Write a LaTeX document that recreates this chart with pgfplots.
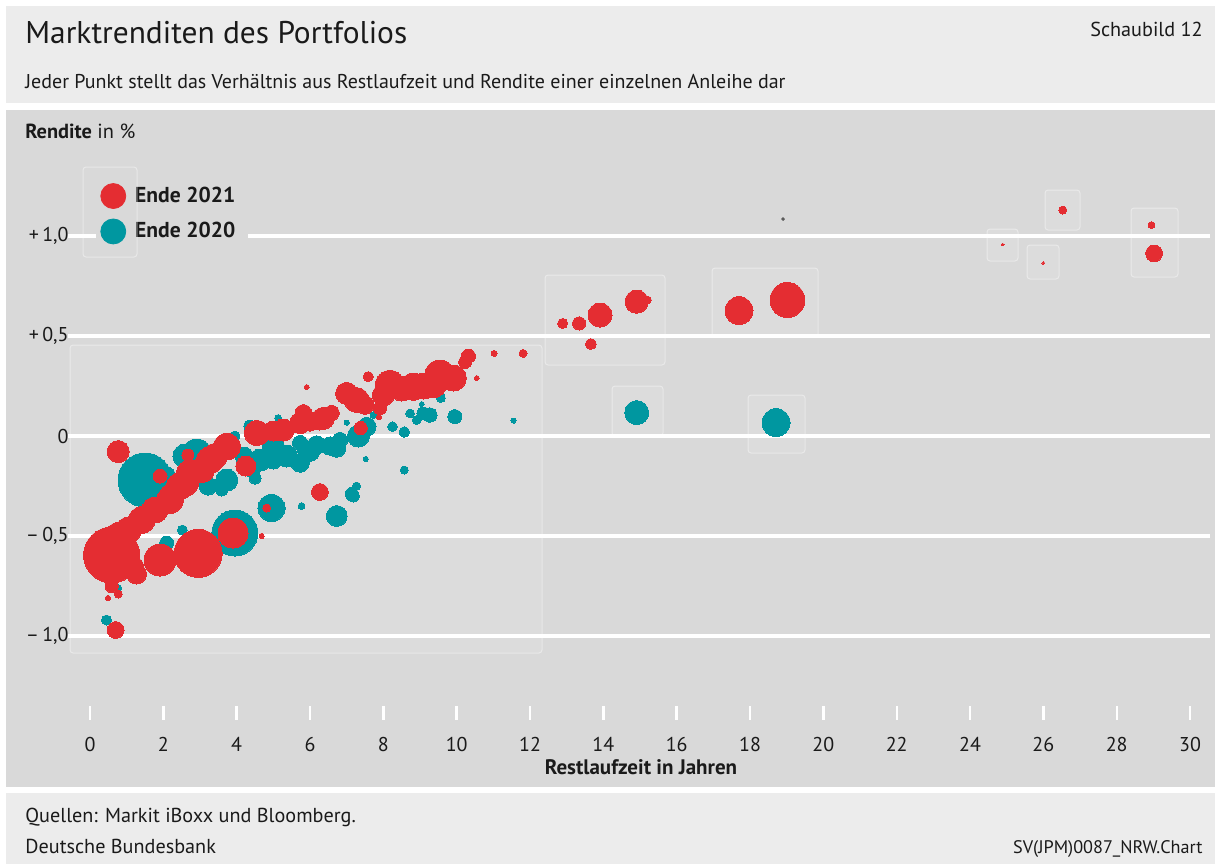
\documentclass[border=0pt]{standalone}
\usepackage{pgfplots}
\usepackage{pgfplotstable}
\pgfplotsset{compat=1.18}
\usepackage{fontspec}
\setmainfont{PT Sans}
\definecolor{hdr}{HTML}{ECECEC}
\definecolor{pbg}{HTML}{D9D9D9}
\definecolor{cred}{HTML}{E42D32}
\definecolor{cteal}{HTML}{0097A0}
\definecolor{txt}{HTML}{1A1A1A}
\pgfplotstableread{
x y r
1.50 -0.22 13.5
2.91 -0.09 7.5
3.95 -0.485 11.5
2.09 -0.535 3.5
1.25 -0.42 3.7
2.52 -0.47 2.5
4.95 -0.36 6.8
5.77 -0.35 1.7
6.73 -0.40 5.2
7.14 -0.29 3.3
7.27 -0.25 2
7.18 -0.30 3
8.57 -0.17 2
0.45 -0.92 2.5
0.77 -0.76 1.7
4.64 -0.12 5.5
5.36 -0.10 5.5
6.00 -0.078 4.8
6.73 -0.06 4.6
3.73 -0.22 5.5
3.22 -0.25 4.5
3.59 -0.27 3
4.50 -0.21 3
5.73 -0.035 3.8
4.36 0.05 3
5.13 0.09 1.7
3.95 0.0 2.5
7.00 0.067 1.3
5.91 -0.07 4.6
6.18 -0.045 4.6
6.55 -0.05 4.6
6.82 -0.02 3.8
7.32 0.0 5.5
7.55 0.047 4.6
7.73 0.105 1.7
7.91 0.12 1.2
8.25 0.047 2.4
8.57 0.02 2.6
8.73 0.113 2.2
8.91 0.08 2.2
9.09 0.113 3.2
9.27 0.105 3.6
9.05 0.16 1.2
9.57 0.19 2.2
9.95 0.097 3.5
11.55 0.077 1.3
7.52 -0.115 1.3
5.73 -0.135 4.6
2.59 -0.10 6
2.09 -0.20 4.5
5.00 -0.05 5.5
4.20 -0.10 4.5
5.00 -0.12 4.5
4.40 -0.16 4.5
14.91 0.117 6
18.71 0.067 7
}\tealdata
\pgfplotstableread{
x y r
0.77 -0.078 5.5
1.91 -0.20 3.5
0.59 -0.595 14
1.91 -0.62 8
2.95 -0.587 12
3.90 -0.485 7.5
0.77 -0.50 6.7
1.05 -0.47 6.5
1.41 -0.42 6.7
1.77 -0.37 6.5
2.18 -0.32 6.7
2.23 -0.30 6.3
2.45 -0.25 6.7
2.59 -0.235 6.7
2.73 -0.185 6.7
3.05 -0.17 6.3
3.27 -0.12 6.7
3.41 -0.10 6.3
2.67 -0.095 3
3.73 -0.053 6.7
3.86 -0.05 4.5
4.25 -0.15 5
4.55 0.015 6.3
5.00 0.025 5
5.27 0.03 5.5
5.73 0.065 5.3
6.00 0.07 4.5
6.27 0.08 5
1.23 -0.65 4.2
1.27 -0.69 5
0.59 -0.75 3.3
0.77 -0.79 2
0.49 -0.81 1.3
0.70 -0.97 4.2
4.68 -0.50 1.3
4.82 -0.36 2
6.27 -0.28 4.2
5.91 0.245 1.2
7.38 0.04 3.3
7.59 0.297 2.5
7.00 0.213 5.5
7.27 0.18 6.2
7.50 0.155 4.6
7.91 0.14 3.3
7.88 0.095 1.3
6.36 0.088 5.5
6.59 0.115 3.8
5.82 0.115 4.2
8.00 0.205 5.5
8.18 0.255 7.3
8.50 0.235 6
8.82 0.247 6.8
9.10 0.25 6.5
9.36 0.26 6.8
9.54 0.305 7.5
9.91 0.29 6.5
10.23 0.37 3.2
10.32 0.40 3.5
10.55 0.29 1.2
11.02 0.413 1.5
11.81 0.413 2
12.89 0.563 2.5
13.34 0.563 3.3
13.91 0.605 6
13.66 0.46 2.7
14.91 0.672 5.8
15.20 0.68 2
17.70 0.627 7
19.02 0.68 8.7
24.89 0.958 0.7
26.53 1.13 2
26.00 0.865 0.7
28.95 1.055 1.7
29.02 0.913 4.2
}\reddata
\begin{document}
\begin{tikzpicture}[every node/.style={inner sep=0pt, text=txt}]
\begin{scope}[x=0.5pt,y=-0.5pt]
\useasboundingbox (0,0) rectangle (1215,864);
\fill[white] (0,0) rectangle (1215,864);
\fill[hdr] (6,6) rectangle (1215,103);
\fill[pbg] (6,110) rectangle (1215,787);
\fill[hdr] (6,793) rectangle (1215,864);
% faint tooltip boxes
\foreach \a/\b/\c/\d in {70/345/542/653, 545/275/665/365, 712/268/818/337, 612/386/663/436, 748/395/805/453, 987/229/1018/261, 1045/190/1080/230, 1027/245/1059/279, 1131/208/1178/277}{
  \filldraw[fill=white, fill opacity=0.10, draw=white, draw opacity=0.4, line width=0.5pt, rounded corners=1.5pt] (\a,\b) rectangle (\c,\d);
}
\end{scope}
\begin{axis}[
  at={(34pt,-360pt)}, anchor=south west,
  scale only axis, width=571.1pt, height=287pt,
  xmin=-0.6, xmax=30.55, ymin=-1.42, ymax=1.45,
  axis line style={draw=none},
  xtick={0,2,...,30},
  ytick={-1,-0.5,0,0.5,1},
  yticklabels={{–\,1,0},{–\,0,5},{0},{+\,0,5},{+\,1,0}},
  ymajorgrids, grid style={white, line width=2pt},
  tick align=inside, major tick length=7pt,
  xtick style={white, line width=1.2pt},
  ytick style={draw=none},
  xtick pos=left, ytick pos=left,
  xticklabel style={yshift=-8.5pt},
  yticklabel style={xshift=0.5pt},
  ticklabel style={font=\fontsize{10}{11}\selectfont, text=txt},
  /pgf/number format/assume math mode=true,
  clip=false,
  legend style={at={(0.0245,0.947)}, anchor=north west, fill=pbg, draw=none,
    font=\fontsize{10.8}{12}\selectfont\bfseries, row sep=4.5pt, inner xsep=2pt, inner ysep=3pt,
    nodes={inner xsep=4.5pt}},
  legend cell align=left,
]
\addlegendimage{legend image code/.code={\fill[cred] (6.25pt,0pt) circle (6.25pt);}}
\addlegendentry{Ende 2021}
\addlegendimage{legend image code/.code={\fill[cteal] (6.25pt,0pt) circle (6.25pt);}}
\addlegendentry{Ende 2020}
\addplot[scatter, only marks, mark=*, forget plot, color=cteal,
  scatter/use mapped color={draw=cteal, fill=cteal, line width=0pt},
  visualization depends on={\thisrow{r} \as \rr},
  scatter/@pre marker code/.append style={/tikz/mark size=\rr}]
  table[x=x, y=y] {\tealdata};
\addplot[scatter, only marks, mark=*, forget plot, color=cred,
  scatter/use mapped color={draw=cred, fill=cred, line width=0pt},
  visualization depends on={\thisrow{r} \as \rr},
  scatter/@pre marker code/.append style={/tikz/mark size=\rr}]
  table[x=x, y=y] {\reddata};
\addplot[only marks, mark=*, mark size=0.7pt, color=black!65, forget plot] coordinates {(18.9,1.085)};
\end{axis}
\begin{scope}[x=0.5pt,y=-0.5pt]
\draw[white, draw opacity=0.4, line width=0.5pt, rounded corners=1.5pt] (83,167) rectangle (137,257);
\node[anchor=base west, font=\fontsize{15.7}{18}\selectfont] at (25,43) {Marktrenditen des Portfolios};
\node[anchor=base east, font=\fontsize{10.1}{12}\selectfont] at (1203,36) {Schaubild 12};
\node[anchor=base west, font=\fontsize{10}{12}\selectfont] at (25,88) {Jeder Punkt stellt das Verhältnis aus Restlaufzeit und Rendite einer einzelnen Anleihe dar};
\node[anchor=base west, font=\fontsize{10.2}{12}\selectfont] at (25,138) {\textbf{Rendite} in \%};
\node[anchor=base, font=\fontsize{10.5}{12}\selectfont\bfseries] at (641,774) {Restlaufzeit in Jahren};
\node[anchor=base west, font=\fontsize{10.1}{12}\selectfont] at (25,822) {Quellen: Markit iBoxx und Bloomberg.};
\node[anchor=base west, font=\fontsize{10.1}{12}\selectfont] at (25,853) {Deutsche Bundesbank};
\node[anchor=base east, font=\fontsize{9.1}{11}\selectfont] at (1203,853) {SV(JPM)0087\_NRW.Chart};
\end{scope}
\end{tikzpicture}
\end{document}
